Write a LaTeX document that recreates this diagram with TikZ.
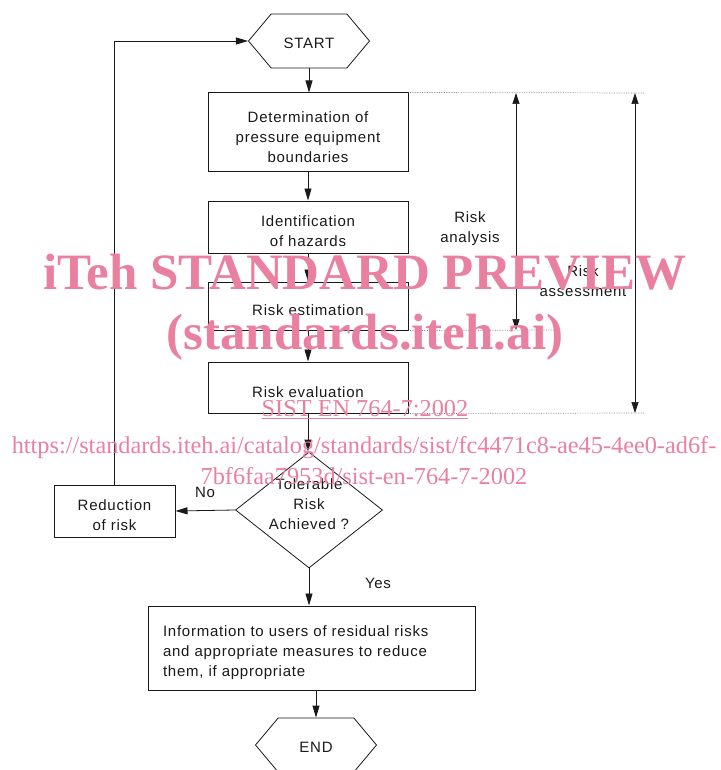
\documentclass[tikz,border=0pt]{standalone}
\usepackage{fontspec}
\setmainfont{Liberation Sans}[LetterSpace=5]
\newfontfamily\wmfont{Liberation Serif}
\usetikzlibrary{shapes.geometric,shapes.symbols,arrows.meta}
\definecolor{wmpink}{RGB}{234,128,160}
\definecolor{ink}{RGB}{25,25,25}

\tikzset{
  stepbox/.style={draw=ink, line width=1pt, minimum width=200pt, text width=196pt, align=center, inner sep=2pt,
    execute at begin node={\rule{0pt}{20pt}}},
  hexa/.style={draw=ink, line width=0.8pt, shape=signal, signal to=west and east,
    signal pointer angle=100, minimum width=121pt, minimum height=54pt, inner sep=0pt,
    execute at begin node={\rule{0pt}{15pt}}},
  flow/.style={-{Triangle[width=7pt,length=12pt]}, line width=0.8pt, draw=ink},
  span/.style={{Triangle[width=7pt,length=11pt]}-{Triangle[width=7pt,length=11pt]}, line width=0.7pt, draw=ink},
  guide/.style={densely dotted, line width=0.7pt, draw=gray},
  wmbig/.style={text=wmpink, font=\wmfont\bfseries\fontsize{51}{51}\selectfont},
  wmsmall/.style={text=wmpink, font=\wmfont\fontsize{24.3}{25}\selectfont}
}

\begin{document}
\begin{tikzpicture}[x=1pt,y=-1pt, font=\fontsize{15}{20}\selectfont, text=ink]
\useasboundingbox (0,0) rectangle (720,770);

% main chain
\node[hexa] (start) at (309,41) {START};
\node[stepbox, minimum height=79pt] (det) at (308,132.5) {Determination of\\pressure equipment\\boundaries};
\node[stepbox, minimum height=52pt] (haz) at (308,227) {Identification\\of hazards};
\node[stepbox, minimum height=48pt] (est) at (308,306) {Risk estimation};
\node[stepbox, minimum height=51pt] (eval) at (308,387.5) {Risk evaluation};
\node[draw=ink, line width=0.8pt, shape=diamond, inner sep=0pt,
  minimum width=147pt, minimum height=116pt] (tol) at (309,510) {};
\node[align=center] (toltext) at (309,504) {Tolerable\\Risk\\Achieved ?};
\node[stepbox, minimum width=121pt, text width=117pt, minimum height=52pt] (red) at (114.5,511) {Reduction\\of risk};
\node[stepbox, minimum width=327pt, minimum height=84pt, text width=297pt, align=left] (info) at (311.5,648)
  {Information to users of residual risks\\and appropriate measures to reduce\\them, if appropriate};
\node[hexa] (end) at (316,745) {END};

\draw[flow] (start.south) -- (start.south |- det.north);
\draw[flow] (det) -- (haz);
\draw[flow] (haz) -- (est);
\draw[flow] (est) -- (eval);
\draw[flow] (eval.south) -- (eval.south |- tol.north);
\draw[flow] (tol.west) -- (red.east);
\draw[flow] (tol.south) -- (tol.south |- info.north);
\draw[flow] (info.south -| end.north) -- (end.north);
\draw[flow] (red.north) |- (start.west);

\node (no) at (205,492) {No};
\node (yes) at (378,583) {Yes};

% brackets on the right
\coordinate (anatop) at (516,93);
\coordinate (anabot) at (516,330);
\coordinate (asstop) at (635,93);
\coordinate (assbot) at (635,413);
\draw[guide] (det.north east) -- (645,93);
\draw[guide] (est.south east) -- (560,330);
\draw[guide] (eval.south east) -- (645,413);
\draw[span] (anatop) -- (anabot);
\draw[span] (asstop) -- (assbot);
\node[align=center] (analab) at (470,229) {Risk\\analysis};
\node[align=center] (asslab) at (583,281) {Risk\\assessment};

% watermark
\node[wmbig] (wm1) at (365,272) {iTeh STANDARD PREVIEW};
\node[wmbig] (wm2) at (365,337) {(standards.iteh.ai)};
\node[wmsmall] (wm3) at (365,410) {\underline{SIST EN 764-7:2002}};
\node[wmsmall] (wm4) at (364,448) {https://standards.iteh.ai/catalog/standards/sist/fc4471c8-ae45-4ee0-ad6f-};
\node[wmsmall] (wm5) at (364,476) {7bf6faa7953d/sist-en-764-7-2002};
\end{tikzpicture}
\end{document}
